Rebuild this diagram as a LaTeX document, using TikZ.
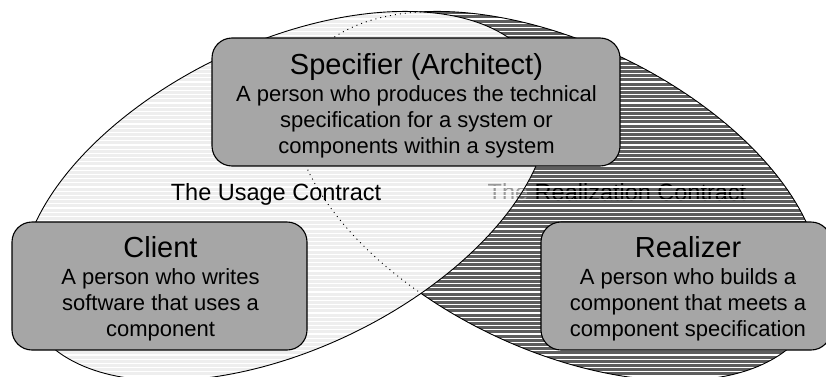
\documentclass[tikz,border=0pt]{standalone}
\usepackage{fontspec}
\setmainfont{Liberation Sans}
\definecolor{boxgray}{gray}{0.65}
\definecolor{darkfill}{gray}{0.37}
\definecolor{lightfill}{gray}{0.935}
\newcommand{\bodyfnt}{\fontsize{22}{26}\selectfont}
\newcommand{\labelfnt}{\fontsize{23.5}{26}\selectfont}
\newcommand{\titlefnt}{\fontsize{29}{30}\selectfont}
\def\lightE{plot[domain=0:360,samples=240,variable=\t] ({285+283*cos(\t)*0.9011-153*sin(\t)*0.4337},{180+283*cos(\t)*0.4337+153*sin(\t)*0.9011}) -- cycle}
\def\darkE{plot[domain=0:360,samples=240,variable=\t] ({557+283*cos(\t)*0.9011+153*sin(\t)*0.4337},{180-283*cos(\t)*0.4337+153*sin(\t)*0.9011}) -- cycle}
\newcommand{\stripes}{\foreach \k in {0,...,92} {\draw[white,line width=1.15pt] (0,{\k*4.2}) -- (826,{\k*4.2});}}
\begin{document}
\begin{tikzpicture}[x=1pt,y=1pt,
  box/.style={draw=black,line width=1.1pt,fill=boxgray,rounded corners=20pt,
    inner sep=0pt,minimum height=128pt},
  boxtext/.style={align=center,font=\bodyfnt,inner sep=0pt,anchor=base},
  outline/.style={draw=black,line width=0.9pt},
  contract/.style={font=\labelfnt,anchor=base,inner sep=0pt}]
\useasboundingbox (0,0) rectangle (826,376);
\fill[white] (0,0) rectangle (826,376);
% fills
\fill[darkfill] \darkE;
\fill[lightfill] \lightE;
% realization label (under stripes)
\node[contract] (realc) at (617,176) {{\color{black!40}The} Realization Contract};
% stripes
\begin{scope}\clip \darkE; \stripes \end{scope}
\begin{scope}\clip \lightE; \stripes \end{scope}
% outlines
\draw[outline] \lightE;
\begin{scope}
  \clip (-20,-20) -- (-20,400) -- (850,400) -- (850,-20) -- cycle \lightE;
  \draw[outline] \darkE;
\end{scope}
\begin{scope}
  \clip \lightE;
  \draw[line width=0.9pt,dash pattern=on 1pt off 4pt] \darkE;
\end{scope}
% usage label
\node[contract] (usage) at (276,176) {The Usage Contract};
% boxes (text anchored at the baseline of its last line)
\node[box,minimum width=408pt] (spec) at (416,274) {};
\node[boxtext] (spectext) at (416.5,223)
  {{\titlefnt Specifier (Architect)}\\[1pt]A person who produces the technical\\specification for a system or\\components within a system};
\node[box,minimum width=295pt] (client) at (159.5,90) {};
\node[boxtext] (clienttext) at (160.5,40)
  {{\titlefnt Client}\\[1pt]A person who writes\\software that uses a\\component};
\node[box,minimum width=290pt] (realizer) at (686,90) {};
\node[boxtext] (realizertext) at (688,40)
  {{\titlefnt Realizer}\\[1pt]A person who builds a\\component that meets a\\component specification};
\end{tikzpicture}
\end{document}
